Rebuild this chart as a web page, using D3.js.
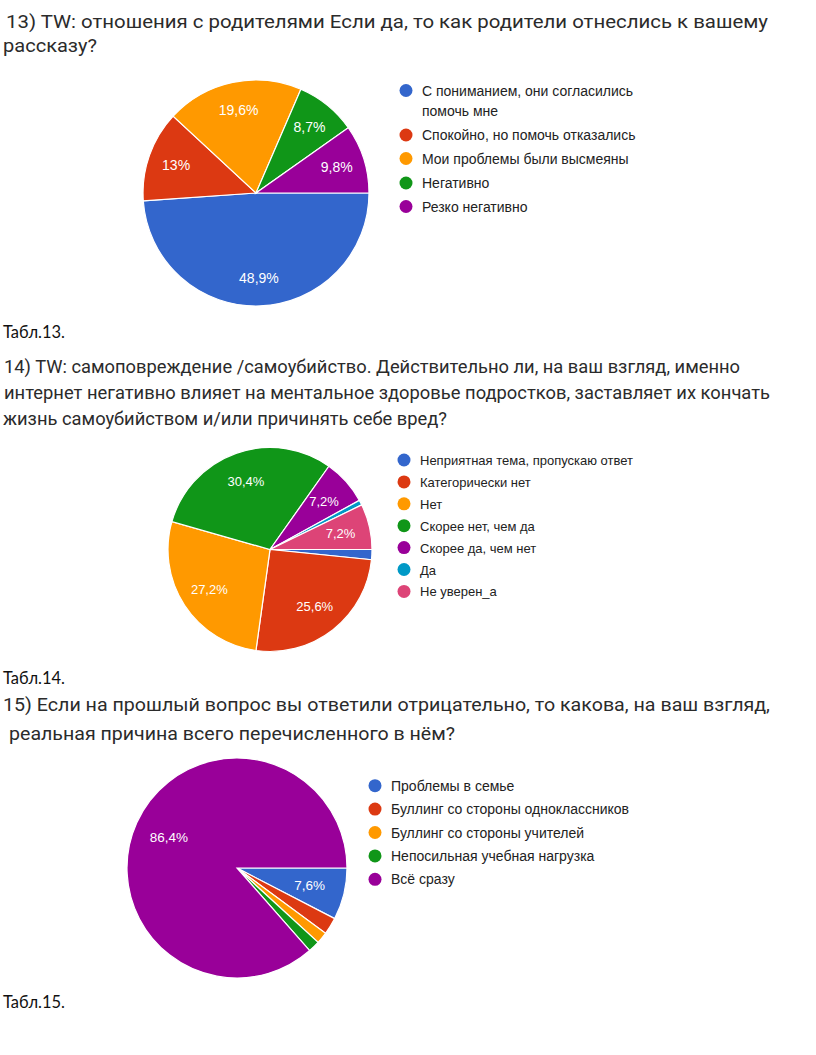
<!DOCTYPE html>
<html><head><meta charset="utf-8">
<script src="https://cdn.jsdelivr.net/npm/d3@7"></script>
<style>body{margin:0;background:#fff}svg{display:block}</style>
</head><body>
<svg id="c" width="816" height="1055"></svg>
<script>
// ---- data ----
const palette = ["#3366cc","#dc3912","#ff9900","#109618","#990099","#0099c6","#dd4477"];

const categories13 = ["С пониманием, они согласились помочь мне","Спокойно, но помочь отказались","Мои проблемы были высмеяны","Негативно","Резко негативно"];
const values13 = [48.9, 13, 19.6, 8.7, 9.8];

const categories14 = ["Неприятная тема, пропускаю ответ","Категорически нет","Нет","Скорее нет, чем да","Скорее да, чем нет","Да","Не уверен_а"];
const values14 = [1.6, 25.6, 27.2, 30.4, 7.2, 0.8, 7.2];

const categories15 = ["Проблемы в семье","Буллинг со стороны одноклассников","Буллинг со стороны учителей","Непосильная учебная нагрузка","Всё сразу"];
const values15 = [7.6, 2.5, 1.7, 1.7, 86.4];

const title13 = ["13) TW: отношения с родителями Если да, то как родители отнеслись к вашему","рассказу?"];
const title14 = ["14) TW: самоповреждение /самоубийство. Действительно ли, на ваш взгляд, именно","интернет негативно влияет на ментальное здоровье подростков, заставляет их кончать","жизнь самоубийством и/или причинять себе вред?"];
const title15 = ["15) Если на прошлый вопрос вы ответили отрицательно, то какова, на ваш взгляд,","реальная причина всего перечисленного в нём?"];
const captions = ["Табл.13.","Табл.14.","Табл.15."];

// ---- drawing ----
const svg = d3.select("#c");
const fmt = v => String(v).replace(".", ",") + "%";

function titleLines(lines, xs, ys, widths){
  lines.forEach((t,i)=>{
    svg.append("text").attr("x",xs[i]).attr("y",ys[i])
      .attr("font-family","Roboto, 'Open Sans', sans-serif").attr("font-size",19)
      .attr("fill","#2b2b2b").attr("textLength",widths[i]).attr("lengthAdjust","spacingAndGlyphs")
      .text(t);
  });
}
function caption(t, y){
  svg.append("text").attr("x",3).attr("y",y)
    .attr("font-family","Lato, 'Open Sans', sans-serif").attr("font-size",18)
    .attr("fill","#111").attr("textLength",62).attr("lengthAdjust","spacingAndGlyphs").text(t);
}

function pieChart(values, cx, cy, r, labelK, labelSize){
  const pie = d3.pie().sort(null).startAngle(Math.PI/2).endAngle(Math.PI/2 + 2*Math.PI);
  const arcs = pie(values);
  const arc = d3.arc().innerRadius(0).outerRadius(r);
  const lab = d3.arc().innerRadius(r*labelK).outerRadius(r*labelK);
  const g = svg.append("g").attr("transform",`translate(${cx},${cy})`);
  g.selectAll("path").data(arcs).join("path")
    .attr("d",arc).attr("fill",(d,i)=>palette[i])
    .attr("stroke","#fff").attr("stroke-width",1.2);
  g.selectAll("text").data(arcs.filter(d=>d.data>=5)).join("text")
    .attr("transform",d=>`translate(${lab.centroid(d)})`)
    .attr("text-anchor","middle").attr("dy","0.35em")
    .attr("font-family","'Liberation Sans', Arial, sans-serif").attr("font-size",labelSize)
    .attr("fill","#fff").text(d=>fmt(d.data));
}

function legend(items, colors, x, rows, size){
  items.forEach((t,i)=>{
    const y = rows[i];
    svg.append("circle").attr("cx",x).attr("cy",y).attr("r",6.5).attr("fill",colors[i]);
    const lines = Array.isArray(t) ? t : [t];
    lines.forEach((l,j)=>{
      svg.append("text").attr("x",x+16).attr("y",y+5+j*20)
        .attr("font-family","'Liberation Sans', Arial, sans-serif").attr("font-size",size)
        .attr("fill","#222").text(l);
    });
  });
}

// chart 13
titleLines(title13, [6,3], [28,52], [762,94]);
pieChart(values13, 256, 193, 113, 0.75, 14);
legend([["С пониманием, они согласились","помочь мне"]].concat(categories13.slice(1)), palette, 406,
  [90.5,135,158.5,183,206.5], 14);
caption(captions[0], 338);

// chart 14
titleLines(title14, [4,4,3], [373,399,425], [736,766,444]);
pieChart(values14, 270, 549.5, 102, 0.71, 13);
legend(categories14, palette, 404, d3.range(7).map(i=>460+i*21.9), 13);
caption(captions[1], 684);

// chart 15
titleLines(title15, [3,9], [711,740], [767,446]);
pieChart(values15, 237, 868, 110, 0.68, 13.5);
legend(categories15, palette, 375, d3.range(5).map(i=>785.7+i*23.4), 14);
caption(captions[2], 1008);
</script>
</body></html>
